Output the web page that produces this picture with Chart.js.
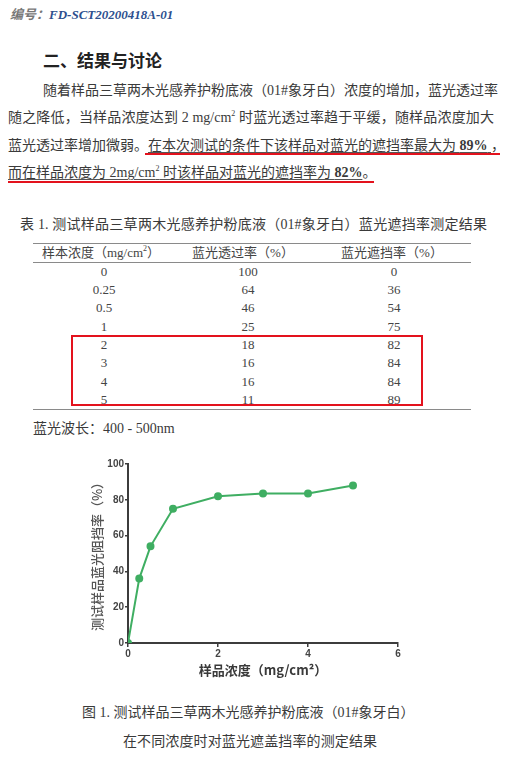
<!DOCTYPE html>
<html>
<head>
<meta charset="utf-8">
<script src="https://cdn.jsdelivr.net/npm/chart.js@4.4.1/dist/chart.umd.min.js"></script>
<style>
  html, body { margin:0; padding:0; background:#fff; }
  body { width:523px; height:760px; position:relative; overflow:hidden;
         font-family:"Liberation Serif","Noto Sans CJK SC",serif; color:#3a3a3a; }
  .abs { position:absolute; white-space:nowrap; }
  .hdr { left:10px; top:6px; font-size:13px; line-height:16px; font-style:italic; font-weight:bold; }
  .hdr .k { color:#777; font-family:"Noto Sans CJK SC"; }
  .hdr .v { color:#2d4f8e; font-family:"Liberation Serif"; }
  .h2 { left:43px; top:49px; font-size:17px; line-height:22px; font-weight:bold; color:#222; font-family:"Noto Sans CJK SC"; }
  .line { font-size:14px; line-height:18px; text-align:justify; text-align-last:justify; text-justify:inter-character; }
  .line.last { text-align-last:left; }
  sup { font-size:8px; line-height:0; vertical-align:6px; }
  .ul { text-decoration:underline; text-decoration-color:#555; text-decoration-thickness:1px; text-underline-offset:2px; }
  .red { position:absolute; height:2px; background:#e3121d; }
  .tt { left:20px; top:216px; width:467px; font-size:14px; line-height:18px; text-align:justify; text-align-last:justify; }
  .rule { position:absolute; left:33px; width:438px; height:1px; background:#8a8a8a; }
  .cell { position:absolute; font-size:13px; line-height:16px; transform:translateX(-50%); white-space:nowrap; color:#444; }
  .box { position:absolute; left:71px; top:335px; width:348px; height:67px; border:2px solid #e3121d; }
  .cap { font-size:14px; line-height:18px; }
  #chartWrap { position:absolute; left:89px; top:455px; width:319px; height:223px; }
</style>
</head>
<body>
<div class="abs hdr"><span class="k">编号：</span><span class="v">FD-SCT20200418A-01</span></div>
<div class="abs h2">二、结果与讨论</div>

<div class="abs line" style="left:43px; top:82px; width:454px;">随着样品三草两木光感养护粉底液（01#象牙白）浓度的增加，蓝光透过率</div>
<div class="abs line" style="left:8px; top:109px; width:486px;">随之降低，当样品浓度达到 2 mg/cm<sup>2</sup> 时蓝光透过率趋于平缓，随样品浓度加大</div>
<div class="abs line" style="left:8px; top:137px; width:497px;">蓝光透过率增加微弱。<span class="ul">在本次测试的条件下该样品对蓝光的遮挡率最大为 <b>89%</b> </span>，</div>
<div class="abs line last" style="left:8px; top:164px;"><span class="ul">而在样品浓度为 2mg/cm<sup>2</sup> 时该样品对蓝光的遮挡率为 <b>82%</b></span>。</div>
<div class="red" style="left:145px; top:153px; width:355px;"></div>
<div class="red" style="left:8px; top:181px; width:366px;"></div>

<div class="abs tt">表 1. 测试样品三草两木光感养护粉底液（01#象牙白）蓝光遮挡率测定结果</div>
<div class="rule" style="top:243px;"></div>
<div class="rule" style="top:262px;"></div>
<div class="rule" style="top:409px;"></div>
<div id="table"></div>
<div class="box"></div>
<div class="abs" style="left:33px; top:420px; font-size:14px; line-height:18px;">蓝光波长：400 - 500nm</div>

<div id="chartWrap"><canvas id="c"></canvas></div>

<div class="abs cap" style="left:82px; top:704px; width:321px; text-align:justify; text-align-last:justify;">图 1. 测试样品三草两木光感养护粉底液（01#象牙白）</div>
<div class="abs cap" style="left:123px; top:733px; width:254px; text-align:justify; text-align-last:justify;">在不同浓度时对蓝光遮盖挡率的测定结果</div>

<script>
// ---- data ----
const concentrations = [0, 0.25, 0.5, 1, 2, 3, 4, 5];          // mg/cm2
const transmittance  = [100, 64, 46, 25, 18, 16, 16, 11];        // %
const blockingTable  = [0, 36, 54, 75, 82, 84, 84, 89];          // % (table)
const blockingCurve  = [0, 36, 54, 75, 82, 83.5, 83.5, 88];      // % (as plotted)
const tableHeaders   = ['样本浓度（mg/cm²）', '蓝光透过率（%）', '蓝光遮挡率（%）'];
const yTicks = [0, 20, 40, 60, 80, 100];
const xTicks = [0, 2, 4, 6];

// ---- table ----
const tbl = document.getElementById('table');
const headerX = [101, 243, 392];
const colX = [104, 248, 394];
tableHeaders.forEach((h, i) => {
  const d = document.createElement('div');
  d.className = 'cell';
  d.style.left = headerX[i] + 'px';
  d.style.top = '245px';
  d.innerHTML = h.replace('²', '<sup>2</sup>');
  tbl.appendChild(d);
});
const rowY = [264, 282, 300, 319, 337, 355, 374, 392];
concentrations.forEach((c, r) => {
  [c, transmittance[r], blockingTable[r]].forEach((v, i) => {
    const d = document.createElement('div');
    d.className = 'cell';
    d.style.left = colX[i] + 'px';
    d.style.top = rowY[r] + 'px';
    d.textContent = String(v);
    tbl.appendChild(d);
  });
});

// ---- chart ----
const green = '#3fae62';
const axisColor = '#3c3c3c';
new Chart(document.getElementById('c'), {
  type: 'line',
  data: {
    datasets: [{
      data: concentrations.map((x, i) => ({ x: x, y: blockingCurve[i] })),
      borderColor: green,
      backgroundColor: green,
      borderWidth: 2,
      pointRadius: 3,
      pointHoverRadius: 3,
      tension: 0
    }]
  },
  options: {
    responsive: true,
    maintainAspectRatio: false,
    animation: false,
    layout: { padding: { top: 9, right: 10, left: 0, bottom: 0 } },
    plugins: { legend: { display: false }, tooltip: { enabled: false } },
    scales: {
      x: {
        type: 'linear', min: 0, max: 6,
        afterBuildTicks: (s) => { s.ticks = xTicks.map(v => ({ value: v })); },
        afterFit: (s) => { s.height = 35; },
        grid: { drawOnChartArea: false, drawTicks: true, tickLength: 4, color: axisColor, lineWidth: 1.5 },
        border: { display: true, color: axisColor, width: 2 },
        ticks: { color: '#444', padding: 1, font: { family: 'Liberation Sans', size: 10, weight: 'bold' } },
        title: { display: true, text: '样品浓度（mg/cm²）', color: '#3a3a3a', padding: 0,
                 font: { family: 'Noto Sans CJK SC', size: 13, weight: 'bold' } }
      },
      y: {
        type: 'linear', min: 0, max: 100,
        afterBuildTicks: (s) => { s.ticks = yTicks.map(v => ({ value: v })); },
        afterFit: (s) => { s.width = 39; },
        grid: { drawOnChartArea: false, drawTicks: true, tickLength: 3, color: axisColor, lineWidth: 1.5 },
        border: { display: true, color: axisColor, width: 2 },
        ticks: { color: '#444', padding: 1, font: { family: 'Liberation Sans', size: 10, weight: 'bold' } },
        title: { display: true, text: '测试样品蓝光阻挡率（%）', color: '#555', padding: 0,
                 font: { family: 'Noto Sans CJK SC', size: 13, weight: '500' } }
      }
    }
  }
});
</script>
</body>
</html>
